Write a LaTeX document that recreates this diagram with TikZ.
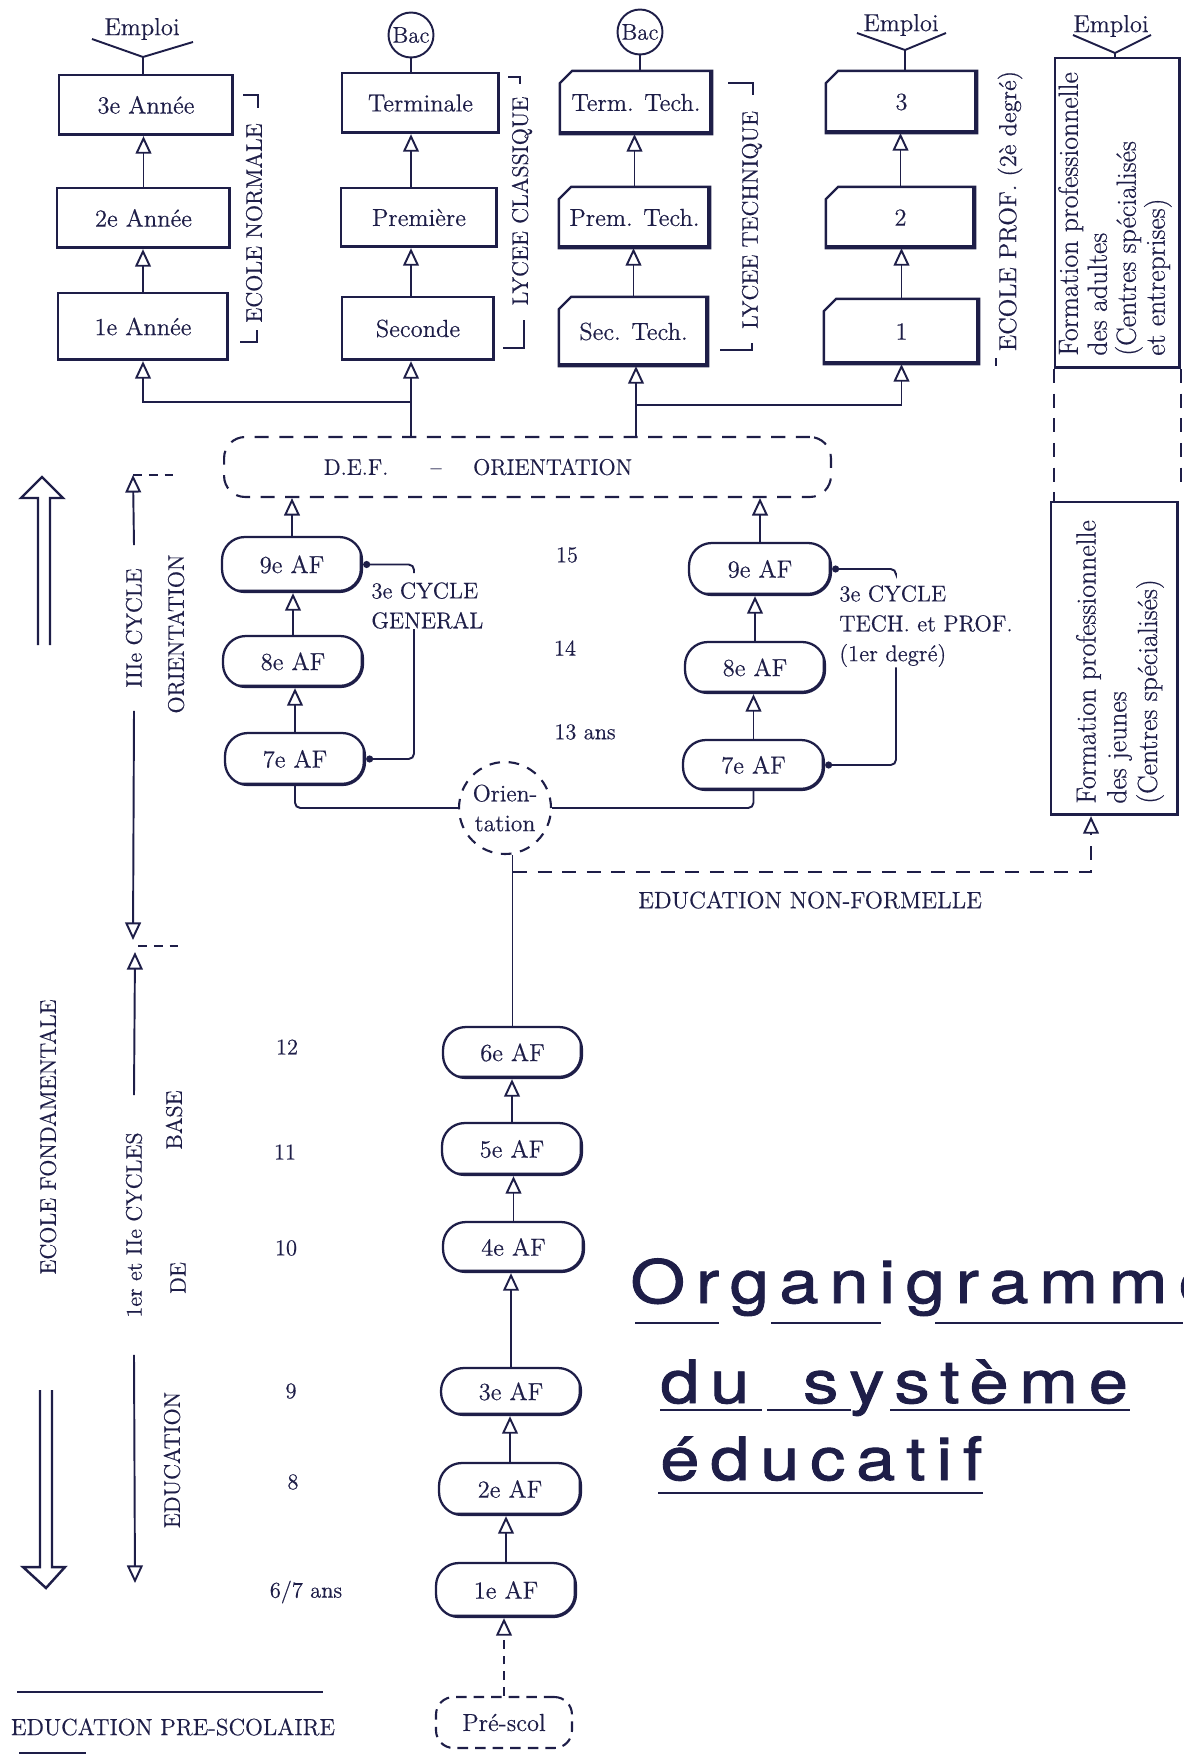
\documentclass[tikz,border=0pt]{standalone}
\usepackage{fontspec}
\setmainfont{Latin Modern Roman}[FakeBold=0.5]
\newfontfamily\titlefont[LetterSpace=18, FakeStretch=1.18, FakeBold=1.5]{TeX Gyre Heros}
\usetikzlibrary{arrows.meta,positioning}
\definecolor{ink}{RGB}{30,30,72}
\tikzset{
  % thicker bottom and right edge, as drawn by hand
  heavy/.style={path picture={
      \draw[ink, line width=2.6pt] (path picture bounding box.south west)
        -- (path picture bounding box.south east)
        -- (path picture bounding box.north east);}},
  sz/.style 2 args={minimum width=#1cm, minimum height=#2cm},
  % the texts
  lbl/.style={text=ink, inner sep=0pt, font=\fontsize{12.8}{15}\selectfont},
  big/.style={lbl, font=\fontsize{14}{16}\selectfont},
  titl/.style={text=ink, inner sep=0pt, font=\titlefont\fontsize{34}{40}\selectfont},
  % the boxes
  yearbox/.style={rectangle, draw=ink, text=ink, line width=1.3pt,
    inner sep=0pt, font=\fontsize{14}{16}\selectfont, heavy},
  chambox/.style={yearbox, draw=none},
  afbox/.style={yearbox, rounded corners=13pt},
  formbox/.style={yearbox},
  ring/.style={circle, draw=ink, text=ink, line width=1.1pt, inner sep=0pt,
    minimum size=0.9cm, font=\fontsize{13}{15}\selectfont},
  dashbox/.style={draw=ink, text=ink, line width=1.2pt,
    dash pattern=on 8pt off 6pt, rounded corners=12pt, inner sep=0pt},
  % the connectors
  link/.style={draw=ink, line width=1.1pt},
  up/.style={link, -{Triangle[open, length=10pt, width=9pt]}},
  dot/.style={link, rounded corners=3pt},
}
% outline of a box with its upper left corner cut off
\newcommand\chamferbox[1]{%
  \draw[ink, line width=1.3pt] (#1.south west) -- ([yshift=-7pt]#1.north west)
    -- ([xshift=7pt]#1.north west) -- (#1.north east) -- (#1.south east) -- cycle;}
\begin{document}
\begin{tikzpicture}[x=0.02cm, y=-0.02cm]
  \useasboundingbox (0,0) rectangle (1183,1754);

  % Ecole normale
  \node (emp1) [big] at (142,29) {Emploi};
  \node (an3) [yearbox, sz={3.48}{1.2}] at (146,105) {3e Année};
  \node (an2) [yearbox, sz={3.46}{1.2}] at (143.5,218) {2e Année};
  \node (an1) [yearbox, sz={3.4}{1.34}] at (143,326.5) {1e Année};
  \node (norm) [lbl, rotate=90] at (254,223) {ECOLE NORMALE};

  % Lycee classique
  \node (bac1) [ring] at (411,35) {Bac};
  \node (term) [yearbox, sz={3.14}{1.2}] at (420.5,103) {Terminale};
  \node (prem) [yearbox, sz={3.12}{1.18}] at (419,217.5) {Première};
  \node (sec) [yearbox, sz={3.04}{1.26}] at (418,328.5) {Seconde};
  \node (clas) [lbl, rotate=90] at (522,201) {LYCEE CLASSIQUE};

  % Lycee technique
  \node (bac2) [ring] at (640,32) {Bac};
  \node (tterm) [chambox, sz={3.0}{1.22}] at (636,102.5) {Term. Tech.};
  \node (tprem) [chambox, sz={2.98}{1.18}] at (634.5,217.5) {Prem. Tech.};
  \node (tsec) [chambox, sz={2.94}{1.34}] at (633.5,331.5) {Sec. Tech.};
  \node (tech) [lbl, rotate=90] at (752,220) {LYCEE TECHNIQUE};

  % Ecole prof.
  \node (emp2) [big] at (901,25) {Emploi};
  \node (pr3) [chambox, sz={2.98}{1.2}] at (901.5,102) {3};
  \node (pr2) [chambox, sz={2.94}{1.18}] at (900.5,217.5) {2};
  \node (pr1) [chambox, sz={3.06}{1.26}] at (901.5,331.5) {1};
  \node (prof) [big, rotate=90] at (1010,211) {ECOLE PROF. (2è degré)};
  \chamferbox{tterm} \chamferbox{tprem} \chamferbox{tsec}
  \chamferbox{pr3} \chamferbox{pr2} \chamferbox{pr1}

  % Formation professionnelle
  \node (emp3) [big] at (1111,26) {Emploi};
  \node (adul) [formbox, sz={2.5}{6.2}] at (1117.5,213) {};
  \node (adtxt) [lbl, rotate=90, anchor=west, align=left,
    font=\fontsize{15.8}{16.5}\selectfont] at (1115,356)
    {Formation professionnelle\\des adultes\\(Centres spécialisés\\et entreprises)};
  \node (jeun) [formbox, sz={2.54}{6.26}] at (1114.5,658.5) {};
  \node (jetxt) [lbl, rotate=90, anchor=west, align=left,
    font=\fontsize{15.8}{17.5}\selectfont] at (1120,804)
    {Formation professionnelle\\des jeunes\\(Centres spécialisés)};

  % D.E.F.
  \node (def) [dashbox, sz={12.14}{1.2}] at (527.5,467) {};
  \node (deftxt) [lbl] at (478,467) {D.E.F.\hspace{24pt}--\hspace{18pt}ORIENTATION};

  % 3e cycle
  \node (g9) [afbox, sz={2.8}{1.1}] at (292,564.5) {9e AF};
  \node (g8) [afbox, sz={2.8}{1.02}] at (293,661.5) {8e AF};
  \node (g7) [afbox, sz={2.8}{1.04}] at (295,759) {7e AF};
  \node (gcyc) [lbl, align=left, anchor=north west,
    font=\fontsize{13}{17}\selectfont] at (371,582) {3e CYCLE\\GENERAL};
  \node (t9) [afbox, sz={2.84}{1.04}] at (760,569) {9e AF};
  \node (t8) [afbox, sz={2.8}{1.02}] at (755,667.5) {8e AF};
  \node (t7) [afbox, sz={2.82}{1.0}] at (753.5,765) {7e AF};
  \node (tcyc) [lbl, align=left, anchor=north west,
    font=\fontsize{13}{17}\selectfont] at (839,585)
    {3e CYCLE\\TECH. et PROF.\\(1er degré)};
  \node (a15) [lbl] at (567,555) {15};
  \node (a14) [lbl] at (565,648) {14};
  \node (a13) [lbl] at (585,732) {13 ans};
  \node (ori) [circle, draw=ink, text=ink, line width=1.2pt,
    dash pattern=on 6pt off 5pt, minimum size=1.84cm, inner sep=0pt,
    align=center, font=\fontsize{13.5}{17}\selectfont] at (505,808) {Orien-\\tation};
  \node (nonf) [lbl, font=\fontsize{13.5}{15}\selectfont] at (810,900) {EDUCATION NON-FORMELLE};

  % 1er et 2e cycles
  \node (af6) [afbox, sz={2.78}{1.02}] at (512.5,1052.5) {6e AF};
  \node (af5) [afbox, sz={2.8}{1.04}] at (512,1149) {5e AF};
  \node (af4) [afbox, sz={2.82}{1.0}] at (513.5,1247) {4e AF};
  \node (af3) [afbox, sz={2.8}{0.94}] at (511,1391.5) {3e AF};
  \node (af2) [afbox, sz={2.84}{1.04}] at (510,1489) {2e AF};
  \node (af1) [afbox, sz={2.8}{1.08}] at (506,1590) {1e AF};
  \node (pre) [dashbox, rounded corners=10pt, dash pattern=on 6pt off 4pt,
    font=\fontsize{14}{16}\selectfont, sz={2.72}{1.02}] at (504,1722.5) {Pré-scol};
  \node (a12) [lbl] at (287,1047) {12};
  \node (a11) [lbl] at (285,1152) {11};
  \node (a10) [lbl] at (286,1248) {10};
  \node (a9) [lbl] at (291,1391) {9};
  \node (a8) [lbl] at (293,1482) {8};
  \node (a6) [lbl] at (306,1592) {6/7 ans};

  % the scale on the left
  \node (cyc3) [lbl, rotate=90, inner xsep=13pt] at (134,628) {IIIe CYCLE};
  \node (oritxt) [lbl, rotate=90] at (176,634) {ORIENTATION};
  \node (fond) [lbl, rotate=90] at (48,1137) {ECOLE FONDAMENTALE};
  \node (cyc12) [lbl, rotate=90, inner xsep=21pt] at (134,1225) {1er et IIe CYCLES};
  \node (base) [lbl, rotate=90] at (174,1120) {BASE};
  \node (de) [lbl, rotate=90] at (178,1278) {DE};
  \node (edu) [lbl, rotate=90] at (172,1460) {EDUCATION};
  \node (presc) [lbl, font=\fontsize{13.3}{15}\selectfont] at (173,1727) {EDUCATION PRE-SCOLAIRE};
  \coordinate (c3top) at (133,475);
  \coordinate (c3bot) at (133,940);
  \coordinate (c12top) at (135,952);
  \coordinate (c12bot) at (135,1583);

  % title
  \node (ttl1) [titl, anchor=base west] at (630,1303) {Organigramme};
  \node (ttl2) [titl, anchor=base west] at (660,1403) {du\hspace{0.9em}système};
  \node (ttl3) [titl, anchor=base west] at (660,1480) {éducatif};

  % Emploi forks
  \coordinate (y1) at (143,57);
  \coordinate (y2) at (905,50);
  \coordinate (y3) at (1115,53);
  \draw[link] (an3.north -| y1) -- (y1) -- ++(-51,-18);
  \draw[link] (y1) -- ++(50,-15);
  \draw[link] (pr3.north -| y2) -- (y2) -- ++(-48,-17);
  \draw[link] (y2) -- ++(41,-17);
  \draw[link] (adul.north -| y3) -- (y3) -- ++(-42,-18);
  \draw[link] (y3) -- ++(36,-18);
  \draw[link] (bac1) -- (bac1 |- term.north);
  \draw[link] (bac2) -- (bac2 |- tterm.north);

  % upper schools
  \path (an1.north) edge[up] (an1.north |- an2.south);
  \path (an2.north) edge[up] (an2.north |- an3.south);
  \path (sec.north -| bac1) edge[up] (prem.south -| bac1);
  \path (prem.north -| bac1) edge[up] (term.south -| bac1);
  \path (tsec.north) edge[up] (tsec.north |- tprem.south);
  \path (tprem.north) edge[up] (tprem.north |- tterm.south);
  \path (pr1.north) edge[up] (pr1.north |- pr2.south);
  \path (pr2.north) edge[up] (pr2.north |- pr3.south);

  % from the D.E.F.
  \coordinate (jl) at (411,402);
  \coordinate (jr) at (636,405);
  \draw[link] (def.north -| jl) -- (jl);
  \draw[up] (jl) -- (sec.south -| jl);
  \draw[up] (jl) -| (an1.south);
  \draw[link] (def.north -| jr) -- (jr);
  \draw[up] (jr) -- (tsec.south -| jr);
  \draw[up] (jr) -| (pr1.south);
  \path (g9.north) edge[up] (g9.north |- def.south);
  \path (t9.north) edge[up] (t9.north |- def.south);

  % 3e cycle
  \path (g7.north) edge[up] (g7.north |- g8.south);
  \path (g8.north) edge[up] (g8.north |- g9.south);
  \path (t7.north) edge[up] (t7.north |- t8.south);
  \path (t8.north) edge[up] (t8.north |- t9.south);
  \coordinate (gk) at (414,573);
  \coordinate (tk) at (896,573);
  \draw[dot, {Circle[length=4pt]}-] (g9.east) -| (gk);
  \draw[dot, -{Circle[length=4pt]}] (gcyc.south -| gk) |- (g7.east);
  \draw[dot, {Circle[length=4pt]}-] (t9.east) -| (tk);
  \draw[dot, -{Circle[length=4pt]}] (tcyc.south -| tk) |- (t7.east);
  \draw[dot] (g7.south) |- (ori.west);
  \draw[dot] (t7.south) |- (ori.east);
  \draw[link] (ori.south -| af6.north) -- (af6.north);

  % non formal education
  \coordinate (nf) at (513,872);
  \coordinate (nfe) at (1091,872);
  \draw[up, dash pattern=on 8pt off 6pt] (nf) -- (nfe) -- (nfe |- jeun.south);
  \draw[link, dash pattern=on 8pt off 6pt] (adul.south west) -- (adul.south west |- jeun.north);
  \draw[link, dash pattern=on 8pt off 6pt] (adul.south east) -- ++(0,122);

  % 1er et 2e cycles
  \path (af5.north) edge[up] (af5.north |- af6.south);
  \path (af4.north) edge[up] (af4.north |- af5.south);
  \path (af3.north) edge[up] (af3.north |- af4.south);
  \path (af2.north) edge[up] (af2.north |- af3.south);
  \path (af1.north) edge[up] (af1.north |- af2.south);
  \draw[up, dash pattern=on 5pt off 4pt] (pre.north) -- (pre.north |- af1.south);

  % scale on the left
  \draw[up] (cyc3.east) -- (c3top);
  \draw[up] (cyc3.west) -- (c3bot);
  \draw[up] (cyc12.east) -- (c12top);
  \draw[up] (cyc12.west) -- (c12bot);
  \draw[link, dash pattern=on 5pt off 4pt] (c3top) -- ++(45,0);
  \draw[link, dash pattern=on 5pt off 4pt] (138,946) -- ++(40,0);
  \draw[ink, line width=1.4pt] (38,645) -- (38,498) -- (21,498) -- (42,477)
    -- (63,498) -- (50,498) -- (50,645);
  \draw[ink, line width=1.4pt] (40,1390) -- (40,1567) -- (23,1567) -- (46,1588)
    -- (65,1567) -- (52,1567) -- (52,1390);
  \draw[link] (17,1692) -- (323,1692);
  \draw[ink, line width=1.6pt] (19,1753) -- (86,1753);

  % brackets beside the schools
  \draw[link] (243,95) -- (258,95) -- (258,108);
  \draw[link] (240,342) -- (257,342) -- (257,330);
  \draw[link] (508,77) -- (520,77) -- (520,84);
  \draw[link] (503,348) -- (524,348) -- (524,320);
  \draw[link] (728,83) -- (753,83) -- (753,95);
  \draw[link] (720,350) -- (752,350) -- (752,343);
  \draw[link] (996,358) -- (996,366);

  % underlines of the title
  \draw[ink, line width=1.6pt] (635,1323) -- (719,1323) (771,1323) -- (881,1323)
    (935,1323) -- (1183,1323);
  \draw[ink, line width=1.6pt] (660,1410) -- (762,1410) (767,1410) -- (851,1410)
    (890,1410) -- (1130,1410);
  \draw[ink, line width=1.6pt] (658,1493) -- (983,1493);
\end{tikzpicture}
\end{document}
